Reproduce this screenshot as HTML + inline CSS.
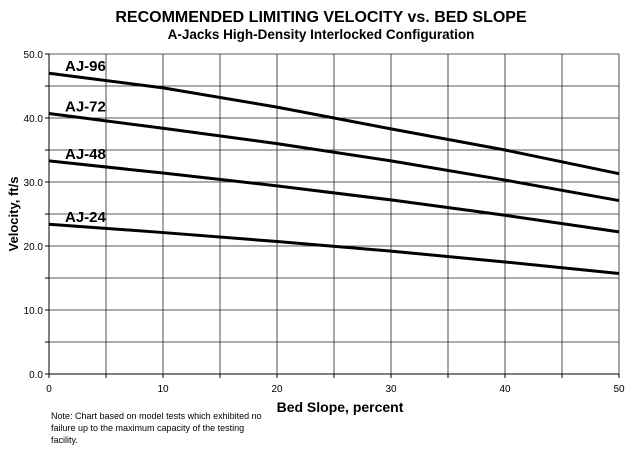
<!DOCTYPE html>
<html><head><meta charset="utf-8"><style>
body{margin:0;background:#fff;}
svg{display:block;font-family:"Liberation Sans",Arial,sans-serif;}
</style></head><body>
<svg id="chart" width="642" height="450" viewBox="0 0 642 450">
<text x="321" y="22" text-anchor="middle" font-size="16" font-weight="bold">RECOMMENDED LIMITING VELOCITY vs. BED SLOPE</text>
<text x="321" y="39" text-anchor="middle" font-size="13.5" font-weight="bold">A-Jacks High-Density Interlocked Configuration</text>
<g id="grid"></g><g id="axes"></g><g id="series"></g>
<text x="18" y="214" text-anchor="middle" font-size="13" font-weight="bold" transform="rotate(-90 18 214)">Velocity, ft/s</text>
<text x="340" y="412" text-anchor="middle" font-size="14" font-weight="bold">Bed Slope, percent</text>
<g font-size="9">
<text x="51" y="419">Note:  Chart based on model tests which exhibited no</text>
<text x="51" y="431">failure up to the maximum capacity of the testing</text>
<text x="51" y="443">facility.</text>
</g>
</svg>
<script>
const xTicks=[0,10,20,30,40,50];
const yTicks=[0,10,20,30,40,50];
const slopes=[0,10,20,30,40,50];
const seriesNames=["AJ-96","AJ-72","AJ-48","AJ-24"];
const aj96=[47.0,44.7,41.7,38.3,35.0,31.3];
const aj72=[40.7,38.4,36.0,33.3,30.3,27.1];
const aj48=[33.3,31.4,29.4,27.2,24.8,22.2];
const aj24=[23.4,22.1,20.7,19.2,17.5,15.7];
const allSeries=[aj96,aj72,aj48,aj24];
const L=49,R=619,T=54,B=374;
const sx=v=>L+(v-0)/50*(R-L);
const sy=v=>B-(v-0)/50*(B-T);
const NS="http://www.w3.org/2000/svg";
function mk(t,a,p){const e=document.createElementNS(NS,t);for(const k in a)e.setAttribute(k,a[k]);p.appendChild(e);return e;}
const grid=document.getElementById('grid'),axes=document.getElementById('axes'),ser=document.getElementById('series');
for(let v=5;v<=50;v+=5){
 const g=mk('line',{x1:sx(v),x2:sx(v),y1:T,y2:B,stroke:'#222','stroke-width':0.8},grid);
 
 
 const h=mk('line',{x1:L,x2:R,y1:sy(v),y2:sy(v),stroke:'#222','stroke-width':0.8},grid);
 
 
}
const ax=mk('path',{d:`M${L} ${T}V${B}H${R}`,stroke:'#000','stroke-width':1,fill:'none'},axes);


for(let v=0;v<=50;v+=5){
 mk('line',{x1:sx(v),x2:sx(v),y1:B,y2:B+4,stroke:'#000'},axes);
 mk('line',{x1:L-4,x2:L,y1:sy(v),y2:sy(v),stroke:'#000'},axes);
}
xTicks.forEach(v=>{const t=mk('text',{x:sx(v),y:B+18,'text-anchor':'middle','font-size':10},axes);t.textContent=v;
 
 });
yTicks.forEach(v=>{const t=mk('text',{x:L-6,y:sy(v)+4,'text-anchor':'end','font-size':10},axes);t.textContent=v.toFixed(1);
 
 });
allSeries.forEach((s,i)=>{
 const d=s.map((v,j)=>(j?'L':'M')+sx(slopes[j])+' '+sy(v)).join('');
 const p=mk('path',{d:d,stroke:'#000','stroke-width':3,fill:'none'},ser);
 
 
 const t=mk('text',{x:65,y:sy(s[0])-2,'font-size':15,'font-weight':'bold'},ser);
 t.textContent=seriesNames[i];
 
 
});
</script>
</body></html>
